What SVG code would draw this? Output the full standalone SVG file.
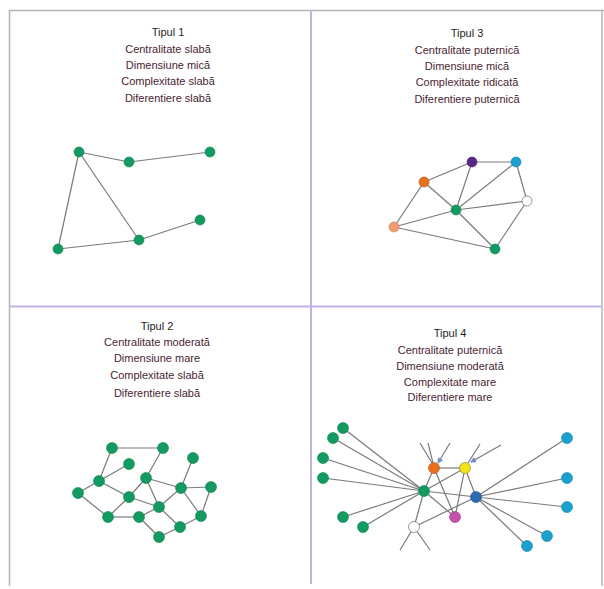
<svg xmlns="http://www.w3.org/2000/svg" width="604" height="589" viewBox="0 0 604 589">
  <style>
    .frame { fill: none; stroke: #b4b4b4; stroke-width: 1.5; }
    .divider { stroke: #c3b3e3; stroke-width: 2; }
    .edge { stroke: #7a7a7a; stroke-width: 1.2; fill: none; }
    .title { font-family: "Liberation Sans", Arial, sans-serif; font-size: 11px; fill: #1e1e1e; text-anchor: middle; }
    .row { font-family: "Liberation Sans", Arial, sans-serif; font-size: 11px; fill: #4a2434; text-anchor: middle; }
    .n { stroke-width: 0.6; }
    .green { fill: #129b60; stroke: #0c7d4c; }
    .purple { fill: #5a2788; stroke: #3f1a60; }
    .cyan { fill: #1ba0cf; stroke: #1480a8; }
    .orange { fill: #e8701c; stroke: #b55210; }
    .peach { fill: #f09c6c; stroke: #c97a50; }
    .white { fill: #ffffff; stroke: #555555; }
    .yellow { fill: #f3e31c; stroke: #8a7a10; }
    .blue { fill: #2a6db5; stroke: #1c4f88; }
    .magenta { fill: #c64fae; stroke: #96387f; }
  </style>
  <defs>
    <marker id="tip" viewBox="0 0 6 6" refX="5" refY="3" markerWidth="5" markerHeight="5" orient="auto">
      <path d="M0,0 L6,3 L0,6 z" fill="#6b8fd4"/>
    </marker>
  </defs>

  <rect width="604" height="589" fill="#ffffff"/>

  <!-- outer frame and the two dividers -->
  <g id="frame">
    <path class="frame" d="M9.5,586 L9.5,10.5 L604,10.5"/>
    <line class="frame" x1="602" y1="10.5" x2="602" y2="586"/>
    <line class="divider" x1="311" y1="10" x2="311" y2="584"/>
    <line class="divider" x1="10" y1="306.5" x2="602" y2="306.5"/>
  </g>

  <!-- panel captions -->
  <g id="caption-1">
    <text class="title" x="168" y="36">Tipul 1</text>
    <text class="row" x="168" y="53">Centralitate slabă</text>
    <text class="row" x="168" y="69">Dimensiune mică</text>
    <text class="row" x="168" y="85">Complexitate slabă</text>
    <text class="row" x="168" y="102">Diferentiere slabă</text>
  </g>
  <g id="caption-3">
    <text class="title" x="467" y="37">Tipul 3</text>
    <text class="row" x="467" y="54">Centralitate puternică</text>
    <text class="row" x="467" y="70">Dimensiune mică</text>
    <text class="row" x="467" y="86">Complexitate ridicată</text>
    <text class="row" x="467" y="103">Diferentiere puternică</text>
  </g>
  <g id="caption-2">
    <text class="title" x="157" y="330">Tipul 2</text>
    <text class="row" x="157" y="346">Centralitate moderată</text>
    <text class="row" x="157" y="362">Dimensiune mare</text>
    <text class="row" x="157" y="379">Complexitate slabă</text>
    <text class="row" x="157" y="397">Diferentiere slabă</text>
  </g>
  <g id="caption-4">
    <text class="title" x="450" y="337">Tipul 4</text>
    <text class="row" x="450" y="354">Centralitate puternică</text>
    <text class="row" x="450" y="370">Dimensiune moderată</text>
    <text class="row" x="450" y="386">Complexitate mare</text>
    <text class="row" x="450" y="401">Diferentiere mare</text>
  </g>

  <!-- connectors -->
  <g id="connectors">
    <!-- panel 1 -->
    <line class="edge" x1="79" y1="152" x2="129" y2="162"/>
    <line class="edge" x1="129" y1="162" x2="210" y2="152"/>
    <line class="edge" x1="79" y1="152" x2="58" y2="249"/>
    <line class="edge" x1="79" y1="152" x2="139" y2="240"/>
    <line class="edge" x1="58" y1="249" x2="139" y2="240"/>
    <line class="edge" x1="139" y1="240" x2="200" y2="220"/>

    <!-- panel 3 -->
    <line class="edge" x1="424" y1="182" x2="472" y2="162"/>
    <line class="edge" x1="472" y1="162" x2="516" y2="162"/>
    <line class="edge" x1="424" y1="182" x2="394" y2="227"/>
    <line class="edge" x1="424" y1="182" x2="456" y2="210"/>
    <line class="edge" x1="472" y1="162" x2="456" y2="210"/>
    <line class="edge" x1="516" y1="162" x2="456" y2="210"/>
    <line class="edge" x1="516" y1="162" x2="527" y2="201"/>
    <line class="edge" x1="394" y1="227" x2="456" y2="210"/>
    <line class="edge" x1="456" y1="210" x2="527" y2="201"/>
    <line class="edge" x1="394" y1="227" x2="495" y2="249"/>
    <line class="edge" x1="456" y1="210" x2="495" y2="249"/>
    <line class="edge" x1="527" y1="201" x2="495" y2="249"/>

    <!-- panel 2 -->
    <line class="edge" x1="112" y1="448" x2="163" y2="448"/>
    <line class="edge" x1="112" y1="448" x2="99" y2="481"/>
    <line class="edge" x1="129" y1="464" x2="99" y2="481"/>
    <line class="edge" x1="163" y1="448" x2="146" y2="478"/>
    <line class="edge" x1="146" y1="478" x2="181" y2="488"/>
    <line class="edge" x1="193" y1="458" x2="181" y2="488"/>
    <line class="edge" x1="181" y1="488" x2="211" y2="487"/>
    <line class="edge" x1="99" y1="481" x2="78" y2="493"/>
    <line class="edge" x1="99" y1="481" x2="129" y2="497"/>
    <line class="edge" x1="129" y1="497" x2="159" y2="507"/>
    <line class="edge" x1="78" y1="493" x2="108" y2="517"/>
    <line class="edge" x1="108" y1="517" x2="139" y2="517"/>
    <line class="edge" x1="129" y1="497" x2="108" y2="517"/>
    <line class="edge" x1="146" y1="478" x2="129" y2="497"/>
    <line class="edge" x1="146" y1="478" x2="159" y2="507"/>
    <line class="edge" x1="159" y1="507" x2="181" y2="488"/>
    <line class="edge" x1="181" y1="488" x2="201" y2="516"/>
    <line class="edge" x1="211" y1="487" x2="201" y2="516"/>
    <line class="edge" x1="201" y1="516" x2="180" y2="527"/>
    <line class="edge" x1="159" y1="507" x2="180" y2="527"/>
    <line class="edge" x1="139" y1="517" x2="159" y2="537"/>
    <line class="edge" x1="180" y1="527" x2="159" y2="537"/>
    <line class="edge" x1="159" y1="507" x2="139" y2="517"/>

    <!-- panel 4: leaves to the two hubs -->
    <line class="edge" x1="343" y1="428" x2="424" y2="491"/>
    <line class="edge" x1="333" y1="438" x2="424" y2="491"/>
    <line class="edge" x1="323" y1="458" x2="424" y2="491"/>
    <line class="edge" x1="323" y1="478" x2="424" y2="491"/>
    <line class="edge" x1="343" y1="517" x2="424" y2="491"/>
    <line class="edge" x1="363" y1="527" x2="424" y2="491"/>
    <line class="edge" x1="567" y1="438" x2="476" y2="497"/>
    <line class="edge" x1="567" y1="478" x2="476" y2="497"/>
    <line class="edge" x1="567" y1="507" x2="476" y2="497"/>
    <line class="edge" x1="547" y1="536" x2="476" y2="497"/>
    <line class="edge" x1="527" y1="546" x2="476" y2="497"/>
    <!-- panel 4: core -->
    <line class="edge" x1="424" y1="491" x2="476" y2="497"/>
    <line class="edge" x1="434" y1="468" x2="465" y2="468"/>
    <line class="edge" x1="434" y1="468" x2="424" y2="491"/>
    <line class="edge" x1="434" y1="468" x2="455" y2="517"/>
    <line class="edge" x1="465" y1="468" x2="424" y2="491"/>
    <line class="edge" x1="465" y1="468" x2="455" y2="517"/>
    <line class="edge" x1="465" y1="468" x2="476" y2="497"/>
    <line class="edge" x1="424" y1="491" x2="455" y2="517"/>
    <line class="edge" x1="424" y1="491" x2="414" y2="527"/>
    <line class="edge" x1="414" y1="527" x2="476" y2="497"/>
    <!-- panel 4: open ends -->
    <line class="edge" x1="420" y1="443" x2="432" y2="463"/>
    <line class="edge" x1="428" y1="443" x2="433" y2="463"/>
    <line class="edge" x1="450" y1="443" x2="438" y2="463" marker-end="url(#tip)"/>
    <line class="edge" x1="480" y1="444" x2="468" y2="463"/>
    <line class="edge" x1="501" y1="445" x2="471" y2="462" marker-end="url(#tip)"/>
    <line class="edge" x1="414" y1="527" x2="400" y2="550"/>
    <line class="edge" x1="414" y1="527" x2="430" y2="550"/>
  </g>

  <!-- panel 1 nodes -->
  <g id="p1-a"><circle class="n green" cx="79" cy="152" r="5"/></g>
  <g id="p1-b"><circle class="n green" cx="129" cy="162" r="5"/></g>
  <g id="p1-c"><circle class="n green" cx="210" cy="152" r="5"/></g>
  <g id="p1-d"><circle class="n green" cx="200" cy="220" r="5"/></g>
  <g id="p1-e"><circle class="n green" cx="139" cy="240" r="5"/></g>
  <g id="p1-f"><circle class="n green" cx="58" cy="249" r="5"/></g>

  <!-- panel 3 nodes -->
  <g id="p3-purple"><circle class="n purple" cx="472" cy="162" r="5"/></g>
  <g id="p3-cyan"><circle class="n cyan" cx="516" cy="162" r="5"/></g>
  <g id="p3-orange"><circle class="n orange" cx="424" cy="182" r="5"/></g>
  <g id="p3-white"><circle class="n white" cx="527" cy="201" r="5"/></g>
  <g id="p3-hub"><circle class="n green" cx="456" cy="210" r="5"/></g>
  <g id="p3-peach"><circle class="n peach" cx="394" cy="227" r="5"/></g>
  <g id="p3-bottom"><circle class="n green" cx="495" cy="249" r="5"/></g>

  <!-- panel 2 nodes -->
  <g id="p2-1"><circle class="n green" cx="112" cy="448" r="5.5"/></g>
  <g id="p2-2"><circle class="n green" cx="163" cy="448" r="5.5"/></g>
  <g id="p2-3"><circle class="n green" cx="193" cy="458" r="5.5"/></g>
  <g id="p2-4"><circle class="n green" cx="129" cy="464" r="5.5"/></g>
  <g id="p2-5"><circle class="n green" cx="99" cy="481" r="5.5"/></g>
  <g id="p2-6"><circle class="n green" cx="146" cy="478" r="5.5"/></g>
  <g id="p2-7"><circle class="n green" cx="181" cy="488" r="5.5"/></g>
  <g id="p2-8"><circle class="n green" cx="211" cy="487" r="5.5"/></g>
  <g id="p2-9"><circle class="n green" cx="78" cy="493" r="5.5"/></g>
  <g id="p2-10"><circle class="n green" cx="129" cy="497" r="5.5"/></g>
  <g id="p2-11"><circle class="n green" cx="159" cy="507" r="5.5"/></g>
  <g id="p2-12"><circle class="n green" cx="108" cy="517" r="5.5"/></g>
  <g id="p2-13"><circle class="n green" cx="139" cy="517" r="5.5"/></g>
  <g id="p2-14"><circle class="n green" cx="201" cy="516" r="5.5"/></g>
  <g id="p2-15"><circle class="n green" cx="180" cy="527" r="5.5"/></g>
  <g id="p2-16"><circle class="n green" cx="159" cy="537" r="5.5"/></g>

  <!-- panel 4 nodes -->
  <g id="p4-g1"><circle class="n green" cx="343" cy="428" r="5.5"/></g>
  <g id="p4-g2"><circle class="n green" cx="333" cy="438" r="5.5"/></g>
  <g id="p4-g3"><circle class="n green" cx="323" cy="458" r="5.5"/></g>
  <g id="p4-g4"><circle class="n green" cx="323" cy="478" r="5.5"/></g>
  <g id="p4-g5"><circle class="n green" cx="343" cy="517" r="5.5"/></g>
  <g id="p4-g6"><circle class="n green" cx="363" cy="527" r="5.5"/></g>
  <g id="p4-hub-green"><circle class="n green" cx="424" cy="491" r="5.5"/></g>
  <g id="p4-orange"><circle class="n orange" cx="434" cy="468" r="5.5"/></g>
  <g id="p4-yellow"><circle class="n yellow" cx="465" cy="468" r="5.5"/></g>
  <g id="p4-hub-blue"><circle class="n blue" cx="476" cy="497" r="5.5"/></g>
  <g id="p4-magenta"><circle class="n magenta" cx="455" cy="517" r="5.5"/></g>
  <g id="p4-white"><circle class="n white" cx="414" cy="527" r="5.5"/></g>
  <g id="p4-c1"><circle class="n cyan" cx="567" cy="438" r="5.5"/></g>
  <g id="p4-c2"><circle class="n cyan" cx="567" cy="478" r="5.5"/></g>
  <g id="p4-c3"><circle class="n cyan" cx="567" cy="507" r="5.5"/></g>
  <g id="p4-c4"><circle class="n cyan" cx="547" cy="536" r="5.5"/></g>
  <g id="p4-c5"><circle class="n cyan" cx="527" cy="546" r="5.5"/></g>
</svg>
